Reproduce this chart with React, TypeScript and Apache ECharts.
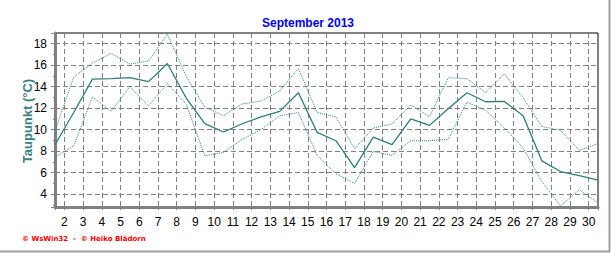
import React, { useEffect, useRef } from "react";
import * as echarts from "echarts";

const TITLE = "September 2013";
const Y_NAME = "Taupunkt (°C)";
const FOOTER = "© WsWin32  -  © Heiko Blädorn";

const DAYS = [1,2,3,4,5,6,7,8,9,10,11,12,13,14,15,16,17,18,19,20,21,22,23,24,25,26,27,28,29,30];
const MEAN = [8.6,11.6,14.7,14.75,14.85,14.47,16.16,12.97,10.56,9.78,10.55,11.2,11.7,13.44,9.75,8.97,6.47,9.31,8.6,11.0,10.4,11.94,13.44,12.6,12.63,11.3,7.1,6.1,5.72,5.31];
const MAX = [9.9,14.9,16.2,17.1,16.1,16.4,18.9,15.0,12.1,11.3,12.4,12.66,13.6,15.7,11.6,11.2,8.22,10.16,10.53,12.3,11.2,14.84,14.75,13.44,15.2,12.97,10.3,9.94,8.06,8.7];
const MIN = [7.44,8.5,13.03,11.72,14.0,12.2,14.3,12.4,7.56,7.88,9.1,10.0,11.3,11.6,7.6,5.9,5.0,7.97,7.6,8.97,8.97,9.1,12.56,11.8,10.16,8.3,5.16,2.9,4.4,3.2];

const LINE_COLOR = "#2e7d7a";
const DOT_COLOR = "#2f8285";
const GRID_COLOR = "#808080";

export default function App() {
  const ref = useRef<HTMLDivElement>(null);
  useEffect(() => {
    if (!ref.current) return;
    const chart = echarts.init(ref.current, null, { renderer: "svg" });
    const toPts = (vals: number[]) => DAYS.map((d, i) => [d + 0.5, vals[i]]);
    const font = "Liberation Sans, Arial, sans-serif";
    chart.setOption({
      animation: false,
      backgroundColor: "#ffffff",
      title: {
        text: TITLE,
        left: "center",
        top: 12,
        textStyle: { color: "#0000ff", fontSize: 12, fontWeight: "bold", fontFamily: font },
      },
      grid: {
        left: 55,
        right: 18,
        top: 33,
        bottom: 46,
        show: true,
        borderColor: "#000000",
        borderWidth: 1,
        backgroundColor: "transparent",
      },
      xAxis: {
        type: "value",
        min: 1.5,
        max: 30.5,
        splitNumber: 29,
        minInterval: 1,
        maxInterval: 1,
        axisLine: { show: true, onZero: false, lineStyle: { color: GRID_COLOR, width: 3 } },
        axisTick: { show: true, length: 3, lineStyle: { color: GRID_COLOR } },
        minorTick: { show: true, splitNumber: 4, length: 2, lineStyle: { color: GRID_COLOR } },
        axisLabel: {
          margin: 9,
          color: "#000",
          fontSize: 12,
          fontFamily: font,
          formatter: (v: number) => (Number.isInteger(v) ? String(v) : ""),
        },
        splitLine: { show: true, lineStyle: { color: GRID_COLOR, type: [5, 3], width: 1 } },
      },
      yAxis: {
        type: "value",
        min: 2.8,
        max: 19,
        minInterval: 2,
        maxInterval: 2,
        splitNumber: 8,
        axisLine: { show: true, onZero: false, lineStyle: { color: GRID_COLOR, width: 3 } },
        axisTick: { show: true, length: 4, lineStyle: { color: GRID_COLOR } },
        minorTick: { show: true, splitNumber: 2, length: 2, lineStyle: { color: GRID_COLOR } },
        axisLabel: {
          margin: 8,
          color: "#000",
          fontSize: 12,
          fontFamily: font,
          formatter: (v: number) => (Math.abs(v % 2) < 1e-9 ? String(v) : ""),
        },
        splitLine: { show: true, lineStyle: { color: GRID_COLOR, type: [5, 3], width: 1 } },
      },
      series: [
        {
          type: "line",
          name: "Max",
          data: toPts(MAX),
          symbol: "none",
          lineStyle: { color: DOT_COLOR, width: 1, type: [1, 1] },
          z: 3,
        },
        {
          type: "line",
          name: "Min",
          data: toPts(MIN),
          symbol: "none",
          lineStyle: { color: DOT_COLOR, width: 1, type: [1, 1] },
          z: 3,
        },
        {
          type: "line",
          name: "Mittel",
          data: toPts(MEAN),
          symbol: "none",
          lineStyle: { color: LINE_COLOR, width: 1.3 },
          z: 4,
        },
      ],
      graphic: [
        {
          type: "text",
          x: 27,
          y: 121,
          rotation: Math.PI / 2,
          style: {
            text: Y_NAME,
            fill: "#3a7f7f",
            font: "bold 13px Liberation Sans, Arial, sans-serif",
            align: "center",
            verticalAlign: "middle",
          },
        },
        {
          type: "text",
          x: 22,
          y: 239,
          style: {
            text: FOOTER,
            fill: "#ff0000",
            font: "bold 7px DejaVu Sans, sans-serif",
            align: "left",
            verticalAlign: "middle",
          },
        },
        {
          type: "line",
          shape: { x1: 0, y1: 251.5, x2: 610, y2: 251.5 },
          style: { stroke: "#a0a0a0", lineWidth: 2 },
        },
        {
          type: "line",
          shape: { x1: 609.5, y1: 0, x2: 609.5, y2: 252 },
          style: { stroke: "#a0a0a0", lineWidth: 2 },
        },
      ],
    });
    return () => chart.dispose();
  }, []);
  return (
    <div
      ref={ref}
      style={{ position: "fixed", left: 0, top: 0, width: 616, height: 253 }}
    />
  );
}
